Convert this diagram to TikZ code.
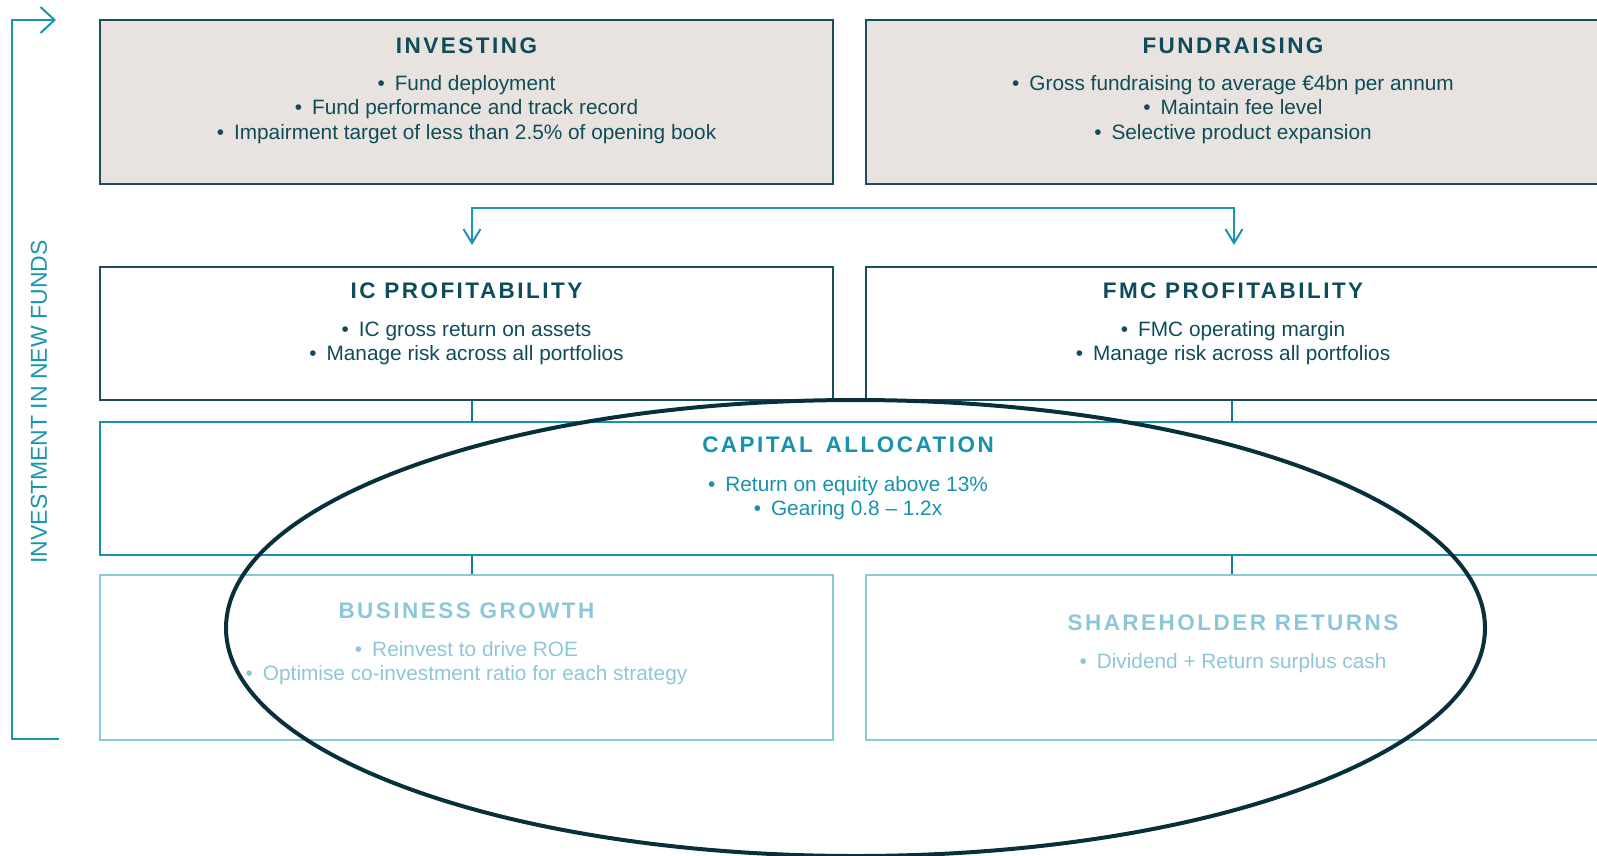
\documentclass[tikz,border=0pt]{standalone}
\usepackage{fontspec}
\setmainfont{Liberation Sans}
\newfontfamily\headfont[LetterSpace=11]{Liberation Sans}
\usetikzlibrary{arrows.meta}
\definecolor{inkdark}{HTML}{0E4C5B}
\definecolor{edgedark}{HTML}{1B4F5B}
\definecolor{panelfill}{HTML}{E8E3DF}
\definecolor{capteal}{HTML}{1691AE}
\definecolor{paleblue}{HTML}{8CC7D9}
\definecolor{loopteal}{HTML}{1A95B2}
\definecolor{ringdark}{HTML}{07303A}

\tikzset{
  panel/.style={draw=edgedark,line width=2pt,minimum width=733pt,inner sep=0pt},
  head/.style={font=\headfont\bfseries\fontsize{22.5}{27}\selectfont},
  items/.style={align=center,font=\fontsize{20.8}{24.2}\selectfont},
  link/.style={line width=1.6pt,capteal!85!black},
  barb/.style={-{Straight Barb[length=14pt,width=17pt,line width=2pt]}}
}
\newcommand{\itm}{\textbullet\hspace{10pt}}

\begin{document}
\begin{tikzpicture}[x=1pt,y=-1pt]
  \useasboundingbox (0,0) rectangle (1597,855);
  \clip (0,0) rectangle (1597,855);

  % top row
  \node[panel,fill=panelfill,minimum height=164pt] (inv) at (466.5,102) {};
  \node[panel,fill=panelfill,minimum height=164pt,minimum width=734pt] (fund) at (1233,102) {};
  \node[head,inkdark] (invT) at (466.5,45.5) {INVESTING};
  \node[items,inkdark] (invB) at (466.5,109.5) {\itm Fund deployment\\ \itm Fund performance and track record\\ \itm Impairment target of less than 2.5\% of opening book};
  \node[head,inkdark] (fundT) at (1233,45.5) {FUNDRAISING};
  \node[items,inkdark] (fundB) at (1233,109.5) {\itm Gross fundraising to average €4bn per annum\\ \itm Maintain fee level\\ \itm Selective product expansion};

  % split arrow into the profitability row
  \coordinate (icin) at (472,245);
  \coordinate (fmcin) at (1234,245);
  \draw[link,loopteal,{Straight Barb[length=14pt,width=17pt,line width=2pt]}-{Straight Barb[length=14pt,width=17pt,line width=2pt]}]
    (icin) -- ++(0,-37) -| (fmcin);

  % profitability row
  \node[panel,minimum height=133pt] (ic) at (466.5,333.5) {};
  \node[panel,minimum height=133pt,minimum width=734pt] (fmc) at (1233,333.5) {};
  \node[head,inkdark] (icT) at (466.5,291) {IC PROFITABILITY};
  \node[items,inkdark] (icB) at (466.5,343.5) {\itm IC gross return on assets\\ \itm Manage risk across all portfolios};
  \node[head,inkdark] (fmcT) at (1233,291) {FMC PROFITABILITY};
  \node[items,inkdark] (fmcB) at (1233,343.5) {\itm FMC operating margin\\ \itm Manage risk across all portfolios};

  % capital allocation
  \node[panel,draw=capteal,minimum height=133pt,minimum width=1500pt] (cap) at (850,488.5) {};
  \node[head,capteal] (capT) at (848,444.5) {CAPITAL\hspace{4pt} ALLOCATION};
  \node[items,capteal] (capB) at (848,498.5) {\itm Return on equity above 13\%\\ \itm Gearing 0.8 -- 1.2x};

  % bottom row
  \node[panel,draw=paleblue,minimum height=165pt] (bg) at (466.5,657.5) {};
  \node[panel,draw=paleblue,minimum height=165pt,minimum width=734pt] (sr) at (1233,657.5) {};
  \node[head,paleblue] (bgT) at (466.5,611) {BUSINESS GROWTH};
  \node[items,paleblue] (bgB) at (466.5,663.5) {\itm Reinvest to drive ROE\\ \itm Optimise co-investment ratio for each strategy};
  \node[head,paleblue] (srT) at (1233,623) {SHAREHOLDER RETURNS};
  \node[items,paleblue] (srB) at (1233,663) {\itm Dividend + Return surplus cash};

  % ties between rows
  \draw[link] ([xshift=5.5pt]ic.south) -- ([xshift=5.5pt]ic.south |- cap.north);
  \draw[link] ([xshift=-1pt]fmc.south) -- ([xshift=-1pt]fmc.south |- cap.north);
  \draw[link] ([xshift=5.5pt]bg.north) -- ([xshift=5.5pt]bg.north |- cap.south);
  \draw[link] ([xshift=-1pt]sr.north) -- ([xshift=-1pt]sr.north |- cap.south);

  % reinvestment loop on the left
  \coordinate (loopfoot) at (59,739);
  \coordinate (loopbase) at (12,739);
  \coordinate (looptop) at (12,20);
  \coordinate (looptip) at (56,20);
  \draw[loopteal,line width=2pt,-{Straight Barb[length=14pt,width=26pt,line width=2pt]}]
    (loopfoot) -- (loopbase) -- (looptop) -- (looptip);
  \node[rotate=90,loopteal,font=\fontsize{23}{27}\selectfont] (loopL) at (39,402) {INVESTMENT IN NEW FUNDS};

  % focus ring
  \draw[ringdark,line width=4pt] (855.5,628) ellipse [x radius=629.5pt,y radius=228pt];
\end{tikzpicture}
\end{document}
